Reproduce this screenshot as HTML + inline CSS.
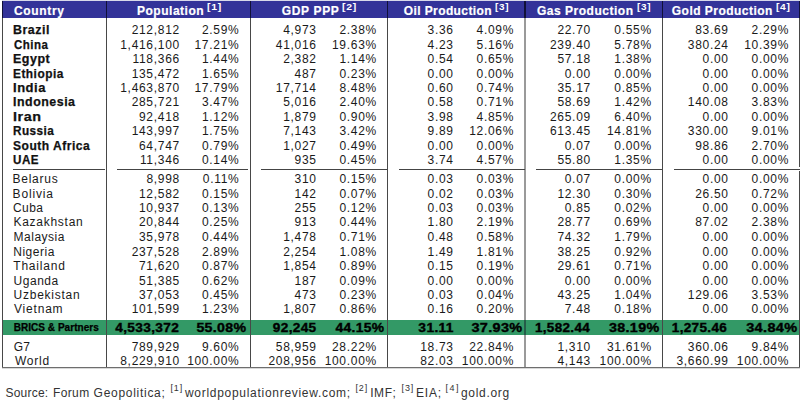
<!DOCTYPE html>
<html><head><meta charset="utf-8"><style>
html,body{margin:0;padding:0;background:#fff;width:800px;height:400px;overflow:hidden;position:relative}
div{position:absolute;white-space:nowrap;line-height:14px;font-family:"Liberation Sans",sans-serif}
.r{font-size:12px;letter-spacing:0.7px;color:#1a1a1a}
.b{font-size:12px;letter-spacing:0.4px;font-weight:bold;color:#111}
.bn{-webkit-text-stroke:0.35px #000;color:#000}
.s{-webkit-text-stroke:0.25px #000;color:#000 !important;font-size:10px;letter-spacing:0.04px;font-weight:bold;color:#111}
.h{font-size:12px;font-weight:bold;color:#fff;-webkit-text-stroke:0.2px #fff}
.bnm{-webkit-text-stroke:0.25px #111}
.hsup{font-size:8.5px;-webkit-text-stroke:0}
.src{font-size:12px;letter-spacing:0.62px;color:#333}
.srcsup{font-size:9px}
</style></head><body>
<div style="left:2px;top:0;width:798px;height:1px;background:#d8d9ea"></div>
<div style="left:2px;top:1px;width:797px;height:17px;background:#333399"></div>
<div style="left:3px;top:320px;width:797px;height:15px;background:#339966"></div>
<div class="h" style="left:14.00px;top:4px;letter-spacing:0.651px">Country</div>
<div class="h" style="left:137.00px;top:4px;letter-spacing:0.511px">Population</div>
<div class="h hsup" style="left:207.00px;top:0px;letter-spacing:0.6px;transform:scaleX(1.2290);transform-origin:0 50%">[1]</div>
<div class="h" style="left:281.80px;top:4px;letter-spacing:0.651px">GDP PPP</div>
<div class="h hsup" style="left:342.20px;top:0px;letter-spacing:0.6px;transform:scaleX(1.2290);transform-origin:0 50%">[2]</div>
<div class="h" style="left:403.80px;top:4px;letter-spacing:0.394px">Oil Production</div>
<div class="h hsup" style="left:495.20px;top:0px;letter-spacing:0.6px;transform:scaleX(1.1668);transform-origin:0 50%">[3]</div>
<div class="h" style="left:537.00px;top:4px;letter-spacing:0.514px">Gas Production</div>
<div class="h hsup" style="left:636.80px;top:0px;letter-spacing:0.6px;transform:scaleX(1.1668);transform-origin:0 50%">[3]</div>
<div class="h" style="left:671.80px;top:4px;letter-spacing:0.470px">Gold Production</div>
<div class="h hsup" style="left:776.00px;top:0px;letter-spacing:0.6px;transform:scaleX(1.2019);transform-origin:0 50%">[4]</div>
<div class="b bnm" style="top:23px;left:13.00px;letter-spacing:0.5px;transform:scaleX(1.0336);transform-origin:0 50%">Brazil</div>
<div class="r" style="top:23px;right:620.10px;">212,812</div>
<div class="r" style="top:23px;right:560.60px;">2.59%</div>
<div class="r" style="top:23px;right:483.30px;">4,973</div>
<div class="r" style="top:23px;right:423.10px;">2.38%</div>
<div class="r" style="top:23px;right:346.30px;">3.36</div>
<div class="r" style="top:23px;right:285.90px;">4.09%</div>
<div class="r" style="top:23px;right:209.10px;">22.70</div>
<div class="r" style="top:23px;right:148.20px;">0.55%</div>
<div class="r" style="top:23px;right:71.30px;">83.69</div>
<div class="r" style="top:23px;right:10.90px;">2.29%</div>
<div class="b bnm" style="top:38px;left:13.60px;letter-spacing:0.5px;transform:scaleX(0.9561);transform-origin:0 50%">China</div>
<div class="r" style="top:38px;right:620.10px;">1,416,100</div>
<div class="r" style="top:38px;right:560.60px;">17.21%</div>
<div class="r" style="top:38px;right:483.30px;">41,016</div>
<div class="r" style="top:38px;right:423.10px;">19.63%</div>
<div class="r" style="top:38px;right:346.30px;">4.23</div>
<div class="r" style="top:38px;right:285.90px;">5.16%</div>
<div class="r" style="top:38px;right:209.10px;">239.40</div>
<div class="r" style="top:38px;right:148.20px;">5.78%</div>
<div class="r" style="top:38px;right:71.30px;">380.24</div>
<div class="r" style="top:38px;right:10.90px;">10.39%</div>
<div class="b bnm" style="top:52px;left:12.60px;letter-spacing:0.5px;transform:scaleX(1.0383);transform-origin:0 50%">Egypt</div>
<div class="r" style="top:52px;right:620.10px;">118,366</div>
<div class="r" style="top:52px;right:560.60px;">1.44%</div>
<div class="r" style="top:52px;right:483.30px;">2,382</div>
<div class="r" style="top:52px;right:423.10px;">1.14%</div>
<div class="r" style="top:52px;right:346.30px;">0.54</div>
<div class="r" style="top:52px;right:285.90px;">0.65%</div>
<div class="r" style="top:52px;right:209.10px;">57.18</div>
<div class="r" style="top:52px;right:148.20px;">1.38%</div>
<div class="r" style="top:52px;right:71.30px;">0.00</div>
<div class="r" style="top:52px;right:10.90px;">0.00%</div>
<div class="b bnm" style="top:67px;left:12.60px;letter-spacing:0.5px;transform:scaleX(0.9890);transform-origin:0 50%">Ethiopia</div>
<div class="r" style="top:67px;right:620.10px;">135,472</div>
<div class="r" style="top:67px;right:560.60px;">1.65%</div>
<div class="r" style="top:67px;right:483.30px;">487</div>
<div class="r" style="top:67px;right:423.10px;">0.23%</div>
<div class="r" style="top:67px;right:346.30px;">0.00</div>
<div class="r" style="top:67px;right:285.90px;">0.00%</div>
<div class="r" style="top:67px;right:209.10px;">0.00</div>
<div class="r" style="top:67px;right:148.20px;">0.00%</div>
<div class="r" style="top:67px;right:71.30px;">0.00</div>
<div class="r" style="top:67px;right:10.90px;">0.00%</div>
<div class="b bnm" style="top:81px;left:12.60px;letter-spacing:0.5px;transform:scaleX(1.0799);transform-origin:0 50%">India</div>
<div class="r" style="top:81px;right:620.10px;">1,463,870</div>
<div class="r" style="top:81px;right:560.60px;">17.79%</div>
<div class="r" style="top:81px;right:483.30px;">17,714</div>
<div class="r" style="top:81px;right:423.10px;">8.48%</div>
<div class="r" style="top:81px;right:346.30px;">0.60</div>
<div class="r" style="top:81px;right:285.90px;">0.74%</div>
<div class="r" style="top:81px;right:209.10px;">35.17</div>
<div class="r" style="top:81px;right:148.20px;">0.85%</div>
<div class="r" style="top:81px;right:71.30px;">0.00</div>
<div class="r" style="top:81px;right:10.90px;">0.00%</div>
<div class="b bnm" style="top:95px;left:13.20px;letter-spacing:0.5px;transform:scaleX(1.0331);transform-origin:0 50%">Indonesia</div>
<div class="r" style="top:95px;right:620.10px;">285,721</div>
<div class="r" style="top:95px;right:560.60px;">3.47%</div>
<div class="r" style="top:95px;right:483.30px;">5,016</div>
<div class="r" style="top:95px;right:423.10px;">2.40%</div>
<div class="r" style="top:95px;right:346.30px;">0.58</div>
<div class="r" style="top:95px;right:285.90px;">0.71%</div>
<div class="r" style="top:95px;right:209.10px;">58.69</div>
<div class="r" style="top:95px;right:148.20px;">1.42%</div>
<div class="r" style="top:95px;right:71.30px;">140.08</div>
<div class="r" style="top:95px;right:10.90px;">3.83%</div>
<div class="b bnm" style="top:110px;left:13.20px;letter-spacing:0.5px;transform:scaleX(1.1952);transform-origin:0 50%">Iran</div>
<div class="r" style="top:110px;right:620.10px;">92,418</div>
<div class="r" style="top:110px;right:560.60px;">1.12%</div>
<div class="r" style="top:110px;right:483.30px;">1,879</div>
<div class="r" style="top:110px;right:423.10px;">0.90%</div>
<div class="r" style="top:110px;right:346.30px;">3.98</div>
<div class="r" style="top:110px;right:285.90px;">4.85%</div>
<div class="r" style="top:110px;right:209.10px;">265.09</div>
<div class="r" style="top:110px;right:148.20px;">6.40%</div>
<div class="r" style="top:110px;right:71.30px;">0.00</div>
<div class="r" style="top:110px;right:10.90px;">0.00%</div>
<div class="b bnm" style="top:124px;left:13.20px;letter-spacing:0.5px;transform:scaleX(0.9768);transform-origin:0 50%">Russia</div>
<div class="r" style="top:124px;right:620.10px;">143,997</div>
<div class="r" style="top:124px;right:560.60px;">1.75%</div>
<div class="r" style="top:124px;right:483.30px;">7,143</div>
<div class="r" style="top:124px;right:423.10px;">3.42%</div>
<div class="r" style="top:124px;right:346.30px;">9.89</div>
<div class="r" style="top:124px;right:285.90px;">12.06%</div>
<div class="r" style="top:124px;right:209.10px;">613.45</div>
<div class="r" style="top:124px;right:148.20px;">14.81%</div>
<div class="r" style="top:124px;right:71.30px;">330.00</div>
<div class="r" style="top:124px;right:10.90px;">9.01%</div>
<div class="b bnm" style="top:139px;left:13.20px;letter-spacing:0.5px;transform:scaleX(1.0028);transform-origin:0 50%">South Africa</div>
<div class="r" style="top:139px;right:620.10px;">64,747</div>
<div class="r" style="top:139px;right:560.60px;">0.79%</div>
<div class="r" style="top:139px;right:483.30px;">1,027</div>
<div class="r" style="top:139px;right:423.10px;">0.49%</div>
<div class="r" style="top:139px;right:346.30px;">0.00</div>
<div class="r" style="top:139px;right:285.90px;">0.00%</div>
<div class="r" style="top:139px;right:209.10px;">0.07</div>
<div class="r" style="top:139px;right:148.20px;">0.00%</div>
<div class="r" style="top:139px;right:71.30px;">98.86</div>
<div class="r" style="top:139px;right:10.90px;">2.70%</div>
<div class="b bnm" style="top:153px;left:13.40px;letter-spacing:0.5px;transform:scaleX(0.9688);transform-origin:0 50%">UAE</div>
<div class="r" style="top:153px;right:620.10px;">11,346</div>
<div class="r" style="top:153px;right:560.60px;">0.14%</div>
<div class="r" style="top:153px;right:483.30px;">935</div>
<div class="r" style="top:153px;right:423.10px;">0.45%</div>
<div class="r" style="top:153px;right:346.30px;">3.74</div>
<div class="r" style="top:153px;right:285.90px;">4.57%</div>
<div class="r" style="top:153px;right:209.10px;">55.80</div>
<div class="r" style="top:153px;right:148.20px;">1.35%</div>
<div class="r" style="top:153px;right:71.30px;">0.00</div>
<div class="r" style="top:153px;right:10.90px;">0.00%</div>
<div class="r" style="top:172px;left:12.60px;letter-spacing:0.725px">Belarus</div>
<div class="r" style="top:172px;right:620.10px;">8,998</div>
<div class="r" style="top:172px;right:560.60px;">0.11%</div>
<div class="r" style="top:172px;right:483.30px;">310</div>
<div class="r" style="top:172px;right:423.10px;">0.15%</div>
<div class="r" style="top:172px;right:346.30px;">0.03</div>
<div class="r" style="top:172px;right:285.90px;">0.03%</div>
<div class="r" style="top:172px;right:209.10px;">0.07</div>
<div class="r" style="top:172px;right:148.20px;">0.00%</div>
<div class="r" style="top:172px;right:71.30px;">0.00</div>
<div class="r" style="top:172px;right:10.90px;">0.00%</div>
<div class="r" style="top:187px;left:12.60px;letter-spacing:0.850px">Bolivia</div>
<div class="r" style="top:187px;right:620.10px;">12,582</div>
<div class="r" style="top:187px;right:560.60px;">0.15%</div>
<div class="r" style="top:187px;right:483.30px;">142</div>
<div class="r" style="top:187px;right:423.10px;">0.07%</div>
<div class="r" style="top:187px;right:346.30px;">0.02</div>
<div class="r" style="top:187px;right:285.90px;">0.03%</div>
<div class="r" style="top:187px;right:209.10px;">12.30</div>
<div class="r" style="top:187px;right:148.20px;">0.30%</div>
<div class="r" style="top:187px;right:71.30px;">26.50</div>
<div class="r" style="top:187px;right:10.90px;">0.72%</div>
<div class="r" style="top:201px;left:13.00px;letter-spacing:0.450px">Cuba</div>
<div class="r" style="top:201px;right:620.10px;">10,937</div>
<div class="r" style="top:201px;right:560.60px;">0.13%</div>
<div class="r" style="top:201px;right:483.30px;">255</div>
<div class="r" style="top:201px;right:423.10px;">0.12%</div>
<div class="r" style="top:201px;right:346.30px;">0.03</div>
<div class="r" style="top:201px;right:285.90px;">0.03%</div>
<div class="r" style="top:201px;right:209.10px;">0.85</div>
<div class="r" style="top:201px;right:148.20px;">0.02%</div>
<div class="r" style="top:201px;right:71.30px;">0.00</div>
<div class="r" style="top:201px;right:10.90px;">0.00%</div>
<div class="r" style="top:215px;left:13.50px;letter-spacing:0.721px">Kazakhstan</div>
<div class="r" style="top:215px;right:620.10px;">20,844</div>
<div class="r" style="top:215px;right:560.60px;">0.25%</div>
<div class="r" style="top:215px;right:483.30px;">913</div>
<div class="r" style="top:215px;right:423.10px;">0.44%</div>
<div class="r" style="top:215px;right:346.30px;">1.80</div>
<div class="r" style="top:215px;right:285.90px;">2.19%</div>
<div class="r" style="top:215px;right:209.10px;">28.77</div>
<div class="r" style="top:215px;right:148.20px;">0.69%</div>
<div class="r" style="top:215px;right:71.30px;">87.02</div>
<div class="r" style="top:215px;right:10.90px;">2.38%</div>
<div class="r" style="top:230px;left:13.50px;letter-spacing:0.515px">Malaysia</div>
<div class="r" style="top:230px;right:620.10px;">35,978</div>
<div class="r" style="top:230px;right:560.60px;">0.44%</div>
<div class="r" style="top:230px;right:483.30px;">1,478</div>
<div class="r" style="top:230px;right:423.10px;">0.71%</div>
<div class="r" style="top:230px;right:346.30px;">0.48</div>
<div class="r" style="top:230px;right:285.90px;">0.58%</div>
<div class="r" style="top:230px;right:209.10px;">74.32</div>
<div class="r" style="top:230px;right:148.20px;">1.79%</div>
<div class="r" style="top:230px;right:71.30px;">0.00</div>
<div class="r" style="top:230px;right:10.90px;">0.00%</div>
<div class="r" style="top:245px;left:13.20px;letter-spacing:0.542px">Nigeria</div>
<div class="r" style="top:245px;right:620.10px;">237,528</div>
<div class="r" style="top:245px;right:560.60px;">2.89%</div>
<div class="r" style="top:245px;right:483.30px;">2,254</div>
<div class="r" style="top:245px;right:423.10px;">1.08%</div>
<div class="r" style="top:245px;right:346.30px;">1.49</div>
<div class="r" style="top:245px;right:285.90px;">1.81%</div>
<div class="r" style="top:245px;right:209.10px;">38.25</div>
<div class="r" style="top:245px;right:148.20px;">0.92%</div>
<div class="r" style="top:245px;right:71.30px;">0.00</div>
<div class="r" style="top:245px;right:10.90px;">0.00%</div>
<div class="r" style="top:259px;left:13.25px;letter-spacing:0.808px">Thailand</div>
<div class="r" style="top:259px;right:620.10px;">71,620</div>
<div class="r" style="top:259px;right:560.60px;">0.87%</div>
<div class="r" style="top:259px;right:483.30px;">1,854</div>
<div class="r" style="top:259px;right:423.10px;">0.89%</div>
<div class="r" style="top:259px;right:346.30px;">0.15</div>
<div class="r" style="top:259px;right:285.90px;">0.19%</div>
<div class="r" style="top:259px;right:209.10px;">29.61</div>
<div class="r" style="top:259px;right:148.20px;">0.71%</div>
<div class="r" style="top:259px;right:71.30px;">0.00</div>
<div class="r" style="top:259px;right:10.90px;">0.00%</div>
<div class="r" style="top:274px;left:13.60px;letter-spacing:0.520px">Uganda</div>
<div class="r" style="top:274px;right:620.10px;">51,385</div>
<div class="r" style="top:274px;right:560.60px;">0.62%</div>
<div class="r" style="top:274px;right:483.30px;">187</div>
<div class="r" style="top:274px;right:423.10px;">0.09%</div>
<div class="r" style="top:274px;right:346.30px;">0.00</div>
<div class="r" style="top:274px;right:285.90px;">0.00%</div>
<div class="r" style="top:274px;right:209.10px;">0.00</div>
<div class="r" style="top:274px;right:148.20px;">0.00%</div>
<div class="r" style="top:274px;right:71.30px;">0.00</div>
<div class="r" style="top:274px;right:10.90px;">0.00%</div>
<div class="r" style="top:288px;left:13.60px;letter-spacing:0.745px">Uzbekistan</div>
<div class="r" style="top:288px;right:620.10px;">37,053</div>
<div class="r" style="top:288px;right:560.60px;">0.45%</div>
<div class="r" style="top:288px;right:483.30px;">473</div>
<div class="r" style="top:288px;right:423.10px;">0.23%</div>
<div class="r" style="top:288px;right:346.30px;">0.03</div>
<div class="r" style="top:288px;right:285.90px;">0.04%</div>
<div class="r" style="top:288px;right:209.10px;">43.25</div>
<div class="r" style="top:288px;right:148.20px;">1.04%</div>
<div class="r" style="top:288px;right:71.30px;">129.06</div>
<div class="r" style="top:288px;right:10.90px;">3.53%</div>
<div class="r" style="top:302px;left:14.00px;letter-spacing:0.800px">Vietnam</div>
<div class="r" style="top:302px;right:620.10px;">101,599</div>
<div class="r" style="top:302px;right:560.60px;">1.23%</div>
<div class="r" style="top:302px;right:483.30px;">1,807</div>
<div class="r" style="top:302px;right:423.10px;">0.86%</div>
<div class="r" style="top:302px;right:346.30px;">0.16</div>
<div class="r" style="top:302px;right:285.90px;">0.20%</div>
<div class="r" style="top:302px;right:209.10px;">7.48</div>
<div class="r" style="top:302px;right:148.20px;">0.18%</div>
<div class="r" style="top:302px;right:71.30px;">0.00</div>
<div class="r" style="top:302px;right:10.90px;">0.00%</div>
<div class="s" style="top:321px;left:13.70px;">BRICS &amp; Partners</div>
<div class="b bn" style="top:321px;right:621.30px;letter-spacing:0.3px;transform:scaleX(1.1371);transform-origin:100% 50%">4,533,372</div>
<div class="b bn" style="top:321px;right:553.30px;letter-spacing:0.3px;transform:scaleX(1.1790);transform-origin:100% 50%">55.08%</div>
<div class="b bn" style="top:321px;right:483.50px;letter-spacing:0.3px;transform:scaleX(1.1344);transform-origin:100% 50%">92,245</div>
<div class="b bn" style="top:321px;right:415.30px;letter-spacing:0.3px;transform:scaleX(1.1525);transform-origin:100% 50%">44.15%</div>
<div class="b bn" style="top:321px;right:346.50px;letter-spacing:0.3px;transform:scaleX(1.1502);transform-origin:100% 50%">31.11</div>
<div class="b bn" style="top:321px;right:277.50px;letter-spacing:0.3px;transform:scaleX(1.2027);transform-origin:100% 50%">37.93%</div>
<div class="b bn" style="top:321px;right:209.70px;letter-spacing:0.3px;transform:scaleX(1.1230);transform-origin:100% 50%">1,582.44</div>
<div class="b bn" style="top:321px;right:140.50px;letter-spacing:0.3px;transform:scaleX(1.1910);transform-origin:100% 50%">38.19%</div>
<div class="b bn" style="top:321px;right:72.70px;letter-spacing:0.3px;transform:scaleX(1.1261);transform-origin:100% 50%">1,275.46</div>
<div class="b bn" style="top:321px;right:2.90px;letter-spacing:0.3px;transform:scaleX(1.2075);transform-origin:100% 50%">34.84%</div>
<div class="r" style="top:340px;left:13.70px;letter-spacing:0.300px">G7</div>
<div class="r" style="top:340px;right:620.10px;">789,929</div>
<div class="r" style="top:340px;right:560.60px;">9.60%</div>
<div class="r" style="top:340px;right:483.30px;">58,959</div>
<div class="r" style="top:340px;right:423.10px;">28.22%</div>
<div class="r" style="top:340px;right:346.30px;">18.73</div>
<div class="r" style="top:340px;right:285.90px;">22.84%</div>
<div class="r" style="top:340px;right:209.10px;">1,310</div>
<div class="r" style="top:340px;right:148.20px;">31.61%</div>
<div class="r" style="top:340px;right:71.30px;">360.06</div>
<div class="r" style="top:340px;right:10.90px;">9.84%</div>
<div class="r" style="top:354px;left:14.95px;letter-spacing:0.789px">World</div>
<div class="r" style="top:354px;right:620.10px;">8,229,910</div>
<div class="r" style="top:354px;right:560.60px;">100.00%</div>
<div class="r" style="top:354px;right:483.30px;">208,956</div>
<div class="r" style="top:354px;right:423.10px;">100.00%</div>
<div class="r" style="top:354px;right:346.30px;">82.03</div>
<div class="r" style="top:354px;right:285.90px;">100.00%</div>
<div class="r" style="top:354px;right:209.10px;">4,143</div>
<div class="r" style="top:354px;right:148.20px;">100.00%</div>
<div class="r" style="top:354px;right:71.30px;">3,660.99</div>
<div class="r" style="top:354px;right:10.90px;">100.00%</div>
<div style="left:2px;top:1px;width:1px;height:17px;background:#101038"></div>
<div style="left:2px;top:18px;width:1px;height:350px;background:#484848"></div>
<div style="left:106px;top:1px;width:1px;height:17px;background:#101038"></div>
<div style="left:106px;top:18px;width:1px;height:349px;background:#484848"></div>
<div style="left:250px;top:1px;width:1px;height:17px;background:#101038"></div>
<div style="left:250px;top:18px;width:1px;height:349px;background:#484848"></div>
<div style="left:387px;top:1px;width:1px;height:17px;background:#101038"></div>
<div style="left:387px;top:18px;width:1px;height:349px;background:#484848"></div>
<div style="left:662px;top:1px;width:1px;height:17px;background:#101038"></div>
<div style="left:662px;top:18px;width:1px;height:349px;background:#484848"></div>
<div style="left:799px;top:1px;width:1px;height:17px;background:#101038"></div>
<div style="left:799px;top:18px;width:1px;height:149px;background:#484848"></div>
<div style="left:799px;top:171px;width:1px;height:197px;background:#484848"></div>
<div style="left:524px;top:1px;width:1px;height:17px;background:#101038"></div>
<div style="left:525px;top:1px;width:1px;height:17px;background:#101038"></div>
<div style="left:524px;top:18px;width:1px;height:302px;background:#9a9a9a"></div>
<div style="left:525px;top:18px;width:1px;height:302px;background:#9a9a9a"></div>
<div style="left:524px;top:320px;width:1px;height:15px;background:#245c48"></div>
<div style="left:525px;top:320px;width:1px;height:15px;background:#245c48"></div>
<div style="left:524px;top:335px;width:1px;height:32px;background:#9a9a9a"></div>
<div style="left:525px;top:335px;width:1px;height:32px;background:#9a9a9a"></div>
<div style="left:13px;top:169px;width:92px;height:1px;background:#444"></div>
<div style="left:117px;top:169px;width:131px;height:1px;background:#444"></div>
<div style="left:261px;top:169px;width:126px;height:1px;background:#444"></div>
<div style="left:399px;top:169px;width:126px;height:1px;background:#444"></div>
<div style="left:536px;top:169px;width:126px;height:1px;background:#444"></div>
<div style="left:674px;top:169px;width:126px;height:1px;background:#444"></div>
<div style="left:2px;top:367px;width:798px;height:1px;background:#6e6e6e"></div>
<div style="left:2px;top:368px;width:798px;height:1px;background:#d8d8d8"></div>
<div class="src" style="left:5.40px;top:386px;letter-spacing:0.237px">Source:</div>
<div class="src" style="left:53.00px;top:386px;letter-spacing:0.370px">Forum</div>
<div class="src" style="left:93.60px;top:386px;letter-spacing:0.716px">Geopolitica;</div>
<div class="src srcsup" style="left:170.40px;top:381px;letter-spacing:0.950px">[1]</div>
<div class="src" style="left:185.00px;top:386px;letter-spacing:0.708px">worldpopulationreview.com;</div>
<div class="src srcsup" style="left:355.40px;top:381px;letter-spacing:0.950px">[2]</div>
<div class="src" style="left:370.20px;top:386px;letter-spacing:0.587px">IMF;</div>
<div class="src srcsup" style="left:401.60px;top:381px;letter-spacing:0.800px">[3]</div>
<div class="src" style="left:416.00px;top:386px;letter-spacing:0.787px">EIA;</div>
<div class="src srcsup" style="left:445.60px;top:381px;letter-spacing:1.450px">[4]</div>
<div class="src" style="left:461.00px;top:386px;letter-spacing:0.691px">gold.org</div>
</body></html>
